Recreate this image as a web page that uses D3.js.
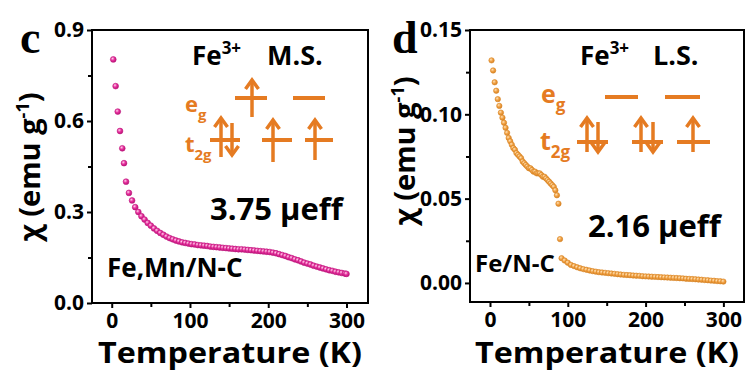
<!DOCTYPE html>
<html><head><meta charset="utf-8">
<script src="https://cdn.jsdelivr.net/npm/d3@7"></script>
<style>
body{margin:0;background:#fff}
svg{display:block}
text{font-family:"Open Sans",sans-serif;font-weight:700}
</style>
</head><body>
<svg id="chart" width="750" height="370"></svg>
<script>
// ---------- data ----------
const tempTicks = [0, 100, 200, 300];
const tempMinor = [50, 150, 250];
const leftTicks = [0, 0.3, 0.6, 0.9];
const leftMinor = [0.15, 0.45, 0.75];
const rightTicks = [0, 0.05, 0.10, 0.15];
const rightMinor = [0.025, 0.075, 0.125];

// Fe,Mn/N-C  (panel c)
const feMnT = [2, 5, 7.7, 10.6, 13.5, 15.7, 18.3,
  22, 26, 30, 34, 38, 42, 46, 50, 54, 58, 62, 66, 70, 74, 78, 82, 86, 90, 94, 98,
  102, 106, 110, 114, 118, 122, 126, 130, 134, 138, 142, 146, 150, 154, 158, 162,
  166, 170, 174, 178, 182, 186, 190, 194, 198, 202, 206, 210, 214, 218, 222, 226,
  230, 234, 238, 242, 246, 250, 254, 258, 262, 266, 270, 274, 278, 282, 286, 290,
  294, 298, 300];
const feMnChi = [0.803, 0.715, 0.631, 0.567, 0.510, 0.461, 0.400,
  0.363, 0.338, 0.316, 0.300, 0.286, 0.275, 0.264, 0.255, 0.246, 0.238, 0.231, 0.225,
  0.219, 0.214, 0.210, 0.206, 0.203, 0.200, 0.198, 0.196,
  0.194, 0.193, 0.191, 0.190, 0.189, 0.188, 0.186, 0.185, 0.184, 0.183, 0.182, 0.181,
  0.180, 0.179, 0.178, 0.177, 0.177, 0.176, 0.175, 0.174, 0.173, 0.172, 0.171, 0.170,
  0.169, 0.168, 0.166, 0.164, 0.161, 0.158, 0.155, 0.151, 0.148, 0.144, 0.141, 0.137,
  0.133, 0.130, 0.127, 0.123, 0.120, 0.117, 0.114, 0.111, 0.108, 0.106, 0.103, 0.101,
  0.099, 0.097, 0.096];

// Fe/N-C  (panel d)
const feT = [2, 4, 6, 8, 10, 12, 14, 16, 18, 20, 22, 24, 26, 28, 30, 32, 34, 36, 38, 40,
  42, 44, 46, 48, 50, 52, 54, 56, 58, 60, 62, 64, 66, 68, 70, 72, 74, 76, 78, 80, 82, 84, 86,
  88, 90,
  92, 96, 100, 104, 108, 112, 116, 120, 124, 128, 132, 136, 140, 144, 148, 152, 156, 160,
  164, 168, 172, 176, 180, 184, 188, 192, 196, 200, 204, 208, 212, 216, 220, 224, 228, 232,
  236, 240, 244, 248, 252, 256, 260, 264, 268, 272, 276, 280, 284, 288, 292, 296, 300];
const feChi = [0.132, 0.126, 0.119, 0.114, 0.109, 0.105, 0.101, 0.098, 0.095, 0.092, 0.089,
  0.086, 0.084, 0.082, 0.080, 0.079, 0.077, 0.076, 0.075, 0.074, 0.072, 0.071, 0.070, 0.069,
  0.068, 0.068, 0.067, 0.066, 0.066, 0.065, 0.065, 0.065, 0.064, 0.063, 0.063, 0.062, 0.061,
  0.060, 0.059, 0.058, 0.057, 0.055, 0.052,
  0.047, 0.026,
  0.0147, 0.0133, 0.0120, 0.0107, 0.0100, 0.0093, 0.0087, 0.0082, 0.0078, 0.0074, 0.0070,
  0.0067, 0.0064, 0.0062, 0.0060, 0.0058, 0.0056, 0.0054, 0.0052, 0.0050, 0.0048, 0.0047,
  0.0046, 0.0044, 0.0043, 0.0042, 0.0040, 0.0039, 0.0038, 0.0037, 0.0036, 0.0035, 0.0034,
  0.0033, 0.0032, 0.0031, 0.0030, 0.0029, 0.0028, 0.0027, 0.0025, 0.0024, 0.0023, 0.0022,
  0.0020, 0.0019, 0.0017, 0.0016, 0.0014, 0.0013, 0.0011, 0.0010, 0.0008];

// ---------- drawing ----------
const svg = d3.select("#chart");
const ORANGE = "#e57b22";
const defs = svg.append("defs");
function sphere(id, hi, mid, lo) {
  const g = defs.append("radialGradient").attr("id", id)
    .attr("cx", "0.38").attr("cy", "0.35").attr("r", "0.7");
  g.append("stop").attr("offset", "0").attr("stop-color", hi);
  g.append("stop").attr("offset", "0.45").attr("stop-color", mid);
  g.append("stop").attr("offset", "1").attr("stop-color", lo);
}
sphere("gm", "#ffd0ec", "#e8329e", "#b40f72");
sphere("go", "#ffe2b8", "#f2a448", "#d47d1e");

function panel(o) {
  const x = d3.scaleLinear().domain(o.xDomain).range([o.left, o.right]);
  const y = d3.scaleLinear().domain(o.yDomain).range([o.bottom, o.top]);
  const g = svg.append("g");

  const styleAxis = sel => {
    sel.select(".domain").remove();
    sel.selectAll("line").attr("stroke", "#000").attr("stroke-width", 2);
    sel.selectAll("text").attr("fill", "#000").style("font-size", "21px");
  };
  g.append("g").attr("transform", `translate(0,${o.bottom})`)
    .call(d3.axisBottom(x).tickValues(tempTicks).tickSize(5).tickPadding(5).tickFormat(d3.format("d")))
    .call(styleAxis);
  g.append("g").attr("transform", `translate(0,${o.bottom})`)
    .call(d3.axisBottom(x).tickValues(tempMinor).tickSize(4).tickFormat(""))
    .call(styleAxis);
  g.append("g").attr("transform", `translate(${o.left},0)`)
    .call(d3.axisLeft(y).tickValues(o.yTicks).tickSize(5).tickPadding(3).tickFormat(d3.format(o.fmt)))
    .call(styleAxis);
  g.append("g").attr("transform", `translate(${o.left},0)`)
    .call(d3.axisLeft(y).tickValues(o.yMinor).tickSize(4).tickFormat(""))
    .call(styleAxis);

  g.append("rect").attr("x", o.left).attr("y", o.top)
    .attr("width", o.right - o.left).attr("height", o.bottom - o.top)
    .attr("fill", "none").attr("stroke", "#000").attr("stroke-width", 2);

  // data points
  g.append("g").selectAll("circle").data(o.T.map((t, i) => [t, o.chi[i]]))
    .join("circle")
    .attr("cx", d => x(d[0])).attr("cy", d => y(d[1])).attr("r", o.r)
    .attr("fill", `url(#${o.grad})`)
    .attr("stroke", o.edge).attr("stroke-width", 0.6);

  // axis titles
  g.append("text").attr("x", (o.left + o.right) / 2).attr("y", 363)
    .attr("text-anchor", "middle").style("font-size", "28px")
    .attr("textLength", 264).attr("lengthAdjust", "spacingAndGlyphs")
    .text("Temperature (K)");
  const yt = g.append("text")
    .attr("transform", `translate(${o.yTitleX},${o.yTitleY}) rotate(-90)`)
    .attr("text-anchor", "middle").style("font-size", "29px");
  yt.append("tspan").text("χ (emu g");
  yt.append("tspan").attr("dy", -11).style("font-size", "18px").text("-1");
  yt.append("tspan").attr("dy", 11).text(")");

  // panel letter
  g.append("text").attr("x", o.letterX).attr("y", 53)
    .style("font-family", '"Liberation Serif", serif').style("font-size", "46px")
    .text(o.letter);

  // labels
  const fe = g.append("text").attr("x", o.feX).attr("y", 65).style("font-size", "26px");
  fe.append("tspan").text("Fe");
  fe.append("tspan").attr("dy", -11).style("font-size", "17px").text("3+");
  g.append("text").attr("x", o.spinX).attr("y", 65).style("font-size", "27px").text(o.spin);

  g.append("text").attr("x", o.muX).attr("y", o.muY).style("font-size", "31px").text(o.mu);
  g.append("text").attr("x", o.nameX).attr("y", o.nameY).style("font-size", o.nameSize).text(o.name);

  // energy diagram labels
  const eg = g.append("text").attr("x", o.egX).attr("y", o.egY).attr("fill", ORANGE)
    .style("font-size", o.dSize + "px");
  eg.append("tspan").text("e");
  eg.append("tspan").attr("dy", 8).style("font-size", (o.dSize * 0.68) + "px").text("g");
  const tg = g.append("text").attr("x", o.tgX).attr("y", o.tgY).attr("fill", ORANGE)
    .style("font-size", o.dSize + "px");
  tg.append("tspan").text("t");
  tg.append("tspan").attr("dy", 8).style("font-size", (o.dSize * 0.68) + "px").text("2g");

  const d = g.append("g").attr("stroke", ORANGE).attr("fill", "none")
    .attr("stroke-linecap", "butt").attr("stroke-linejoin", "miter");
  o.levels.forEach(l => d.append("line").attr("x1", l[0]).attr("x2", l[1])
    .attr("y1", l[2]).attr("y2", l[2]).attr("stroke-width", 4));
  o.arrows.forEach(a => {
    const [ax, y1, y2, dir] = a;
    d.append("line").attr("x1", ax).attr("x2", ax).attr("y1", y1).attr("y2", y2).attr("stroke-width", 3.5);
    const hy = dir > 0 ? y1 : y2, s = dir > 0 ? 1 : -1;
    d.append("path").attr("d", `M${ax - 6.5},${hy + 9 * s} L${ax},${hy} L${ax + 6.5},${hy + 9 * s}`)
      .attr("stroke-width", 3.5);
  });
}

panel({
  left: 92, right: 368, top: 30, bottom: 303,
  xDomain: [-25.2, 327.5], yDomain: [0, 0.9],
  yTicks: leftTicks, yMinor: leftMinor, fmt: ".1f",
  T: feMnT, chi: feMnChi, grad: "gm", edge: "#c0187e", r: 2.9,
  yTitleX: 40, yTitleY: 167, letter: "c", letterX: 20,
  feX: 192, spinX: 267, spin: "M.S.",
  muX: 210, muY: 220, mu: "3.75 μeff",
  nameX: 107, nameY: 277, nameSize: "26px", name: "Fe,Mn/N-C",
  egX: 185, egY: 112, tgX: 185, tgY: 152, dSize: 22,
  levels: [[210, 240, 140], [262, 292, 140], [305, 333, 140], [235, 267, 98], [293, 325, 98]],
  arrows: [[221, 118, 157, 1], [232, 123, 155, -1], [273, 120, 162, 1], [315, 120, 160, 1], [252, 80, 117, 1]]
});

panel({
  left: 470, right: 744, top: 30, bottom: 302,
  xDomain: [-25.7, 326.5], yDomain: [-0.0113, 0.15],
  yTicks: rightTicks, yMinor: rightMinor, fmt: ".2f",
  T: feT, chi: feChi, grad: "go", edge: "#d98424", r: 2.7,
  yTitleX: 415, yTitleY: 151, letter: "d", letterX: 392,
  feX: 580, spinX: 653, spin: "L.S.",
  muX: 588, muY: 237, mu: "2.16 μeff",
  nameX: 475, nameY: 272, nameSize: "24px", name: "Fe/N-C",
  egX: 541, egY: 103, tgX: 540, tgY: 150, dSize: 25,
  levels: [[577, 608, 142], [632, 663, 142], [677, 710, 142], [605, 638, 97], [665, 700, 97]],
  arrows: [[587, 118, 152, 1], [598, 122, 152, -1], [641, 118, 152, 1], [653, 122, 152, -1], [693, 118, 152, 1]]
});
</script>
</body></html>
